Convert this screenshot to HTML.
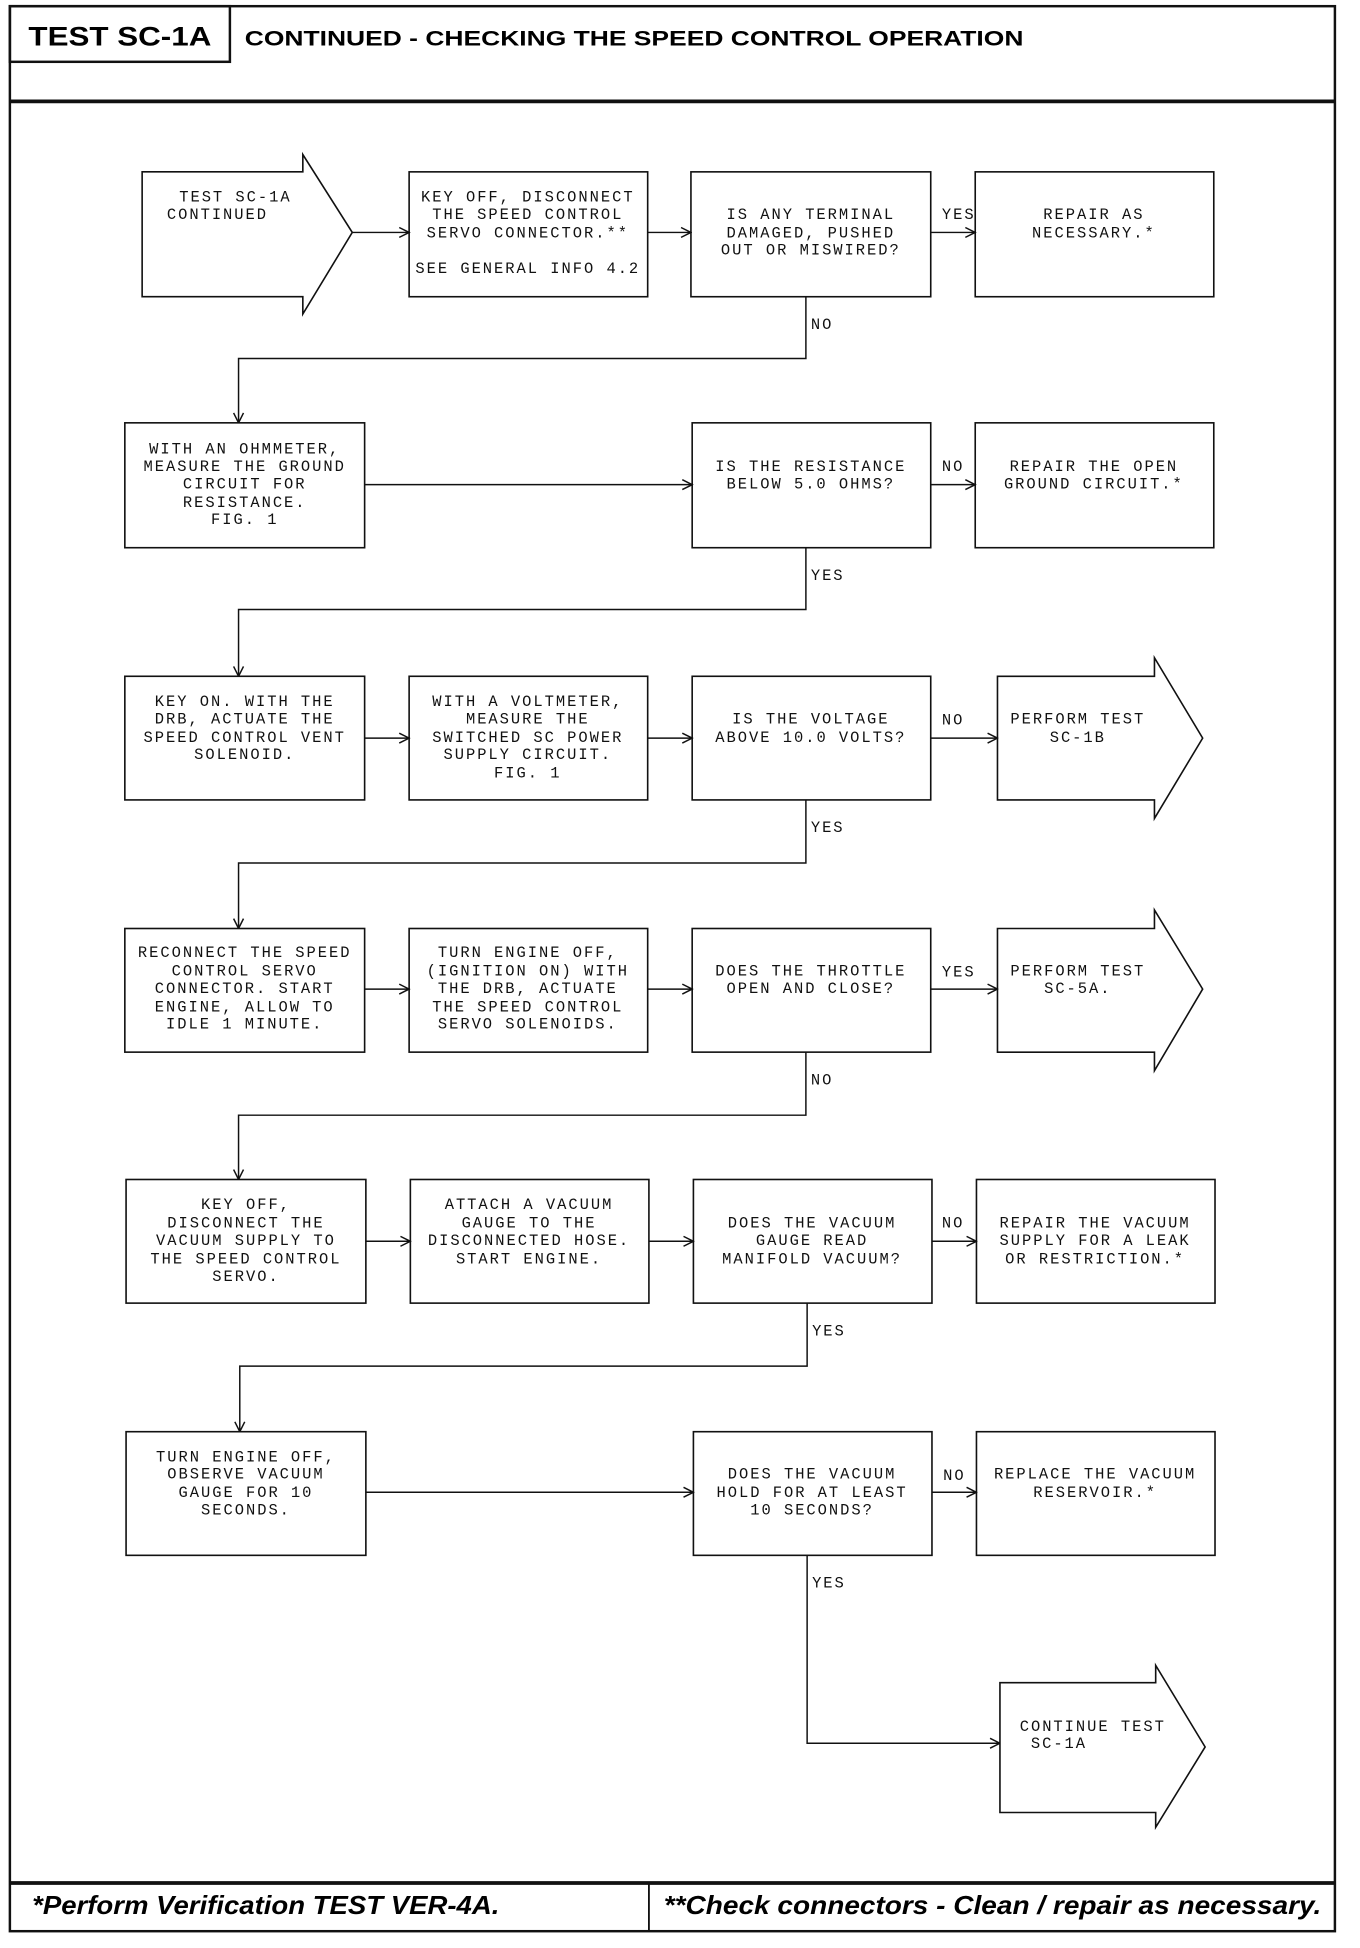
<!DOCTYPE html>
<html><head><meta charset="utf-8"><style>
html,body{margin:0;padding:0;background:#fff;}
svg{display:block;}
.t{font-family:"Liberation Mono",monospace;font-size:12.5px;letter-spacing:1.6px;fill:#111;text-anchor:middle;}
.l{font-family:"Liberation Mono",monospace;font-size:12.5px;letter-spacing:1.6px;fill:#111;}
.b{fill:#fff;stroke:#111;stroke-width:1.3;}
.c{fill:none;stroke:#111;stroke-width:1.2;}
</style></head><body>
<svg width="1360" height="1948" viewBox="0 0 1100.3 1575.6" preserveAspectRatio="none" xmlns="http://www.w3.org/2000/svg">
<defs><marker id="a" markerWidth="10" markerHeight="10" refX="9" refY="5" orient="auto" markerUnits="userSpaceOnUse"><path d="M1,1 L9,5 L1,9" fill="none" stroke="#111" stroke-width="1.2"/></marker></defs>
<rect x="8" y="5" width="1072" height="1557" fill="none" stroke="#111" stroke-width="2"/>
<rect x="8" y="5" width="178" height="45" fill="none" stroke="#111" stroke-width="2"/>
<text x="97" y="37" text-anchor="middle" font-family="Liberation Sans,sans-serif" font-weight="bold" font-size="22" textLength="148" lengthAdjust="spacingAndGlyphs">TEST SC-1A</text>
<text x="198" y="37" font-family="Liberation Sans,sans-serif" font-weight="bold" font-size="17" textLength="630" lengthAdjust="spacingAndGlyphs">CONTINUED - CHECKING THE SPEED CONTROL OPERATION</text>
<line x1="8" y1="82" x2="1080" y2="82" stroke="#111" stroke-width="3"/>
<line x1="8" y1="1523" x2="1080" y2="1523" stroke="#111" stroke-width="3"/>
<line x1="525" y1="1523" x2="525" y2="1562" stroke="#111" stroke-width="1.5"/>
<text x="26" y="1548" font-family="Liberation Sans,sans-serif" font-weight="bold" font-style="italic" font-size="21" textLength="378" lengthAdjust="spacingAndGlyphs">*Perform Verification TEST VER-4A.</text>
<text x="537" y="1548" font-family="Liberation Sans,sans-serif" font-weight="bold" font-style="italic" font-size="21" textLength="532" lengthAdjust="spacingAndGlyphs">**Check connectors - Clean / repair as necessary.</text>

<!-- Row1 -->
<path class="b" d="M115,139 H245 V125 L285,188 L245,254 V240 H115 Z"/>
<text class="l" x="145" y="163">TEST SC-1A</text>
<text class="l" x="135" y="177">CONTINUED</text>
<rect class="b" x="331" y="139" width="193" height="101"/>
<text class="t" x="427" y="163">KEY OFF, DISCONNECT</text>
<text class="t" x="427" y="177">THE SPEED CONTROL</text>
<text class="t" x="427" y="192">SERVO CONNECTOR.**</text>
<text class="t" x="427" y="221">SEE GENERAL INFO 4.2</text>
<rect class="b" x="559" y="139" width="194" height="101"/>
<text class="t" x="656" y="177">IS ANY TERMINAL</text>
<text class="t" x="656" y="192">DAMAGED, PUSHED</text>
<text class="t" x="656" y="206">OUT OR MISWIRED?</text>
<rect class="b" x="789" y="139" width="193" height="101"/>
<text class="t" x="885" y="177">REPAIR AS</text>
<text class="t" x="885" y="192">NECESSARY.*</text>
<line class="c" x1="285" y1="188" x2="331" y2="188" marker-end="url(#a)"/>
<line class="c" x1="524" y1="188" x2="559" y2="188" marker-end="url(#a)"/>
<line class="c" x1="753" y1="188" x2="789" y2="188" marker-end="url(#a)"/>
<text class="l" x="762" y="177">YES</text>
<polyline class="c" points="652,240 652,290 193,290 193,342" marker-end="url(#a)"/>
<text class="l" x="656" y="266">NO</text>

<!-- Row2 -->
<rect class="b" x="101" y="342" width="194" height="101"/>
<text class="t" x="198" y="367">WITH AN OHMMETER,</text>
<text class="t" x="198" y="381">MEASURE THE GROUND</text>
<text class="t" x="198" y="395">CIRCUIT FOR</text>
<text class="t" x="198" y="410">RESISTANCE.</text>
<text class="t" x="198" y="424">FIG. 1</text>
<rect class="b" x="560" y="342" width="193" height="101"/>
<text class="t" x="656" y="381">IS THE RESISTANCE</text>
<text class="t" x="656" y="395">BELOW 5.0 OHMS?</text>
<rect class="b" x="789" y="342" width="193" height="101"/>
<text class="t" x="885" y="381">REPAIR THE OPEN</text>
<text class="t" x="885" y="395">GROUND CIRCUIT.*</text>
<line class="c" x1="295" y1="392" x2="560" y2="392" marker-end="url(#a)"/>
<line class="c" x1="753" y1="392" x2="789" y2="392" marker-end="url(#a)"/>
<text class="l" x="762" y="381">NO</text>
<polyline class="c" points="652,443 652,493 193,493 193,547" marker-end="url(#a)"/>
<text class="l" x="656" y="469">YES</text>

<!-- Row3 -->
<rect class="b" x="101" y="547" width="194" height="100"/>
<text class="t" x="198" y="571">KEY ON. WITH THE</text>
<text class="t" x="198" y="585">DRB, ACTUATE THE</text>
<text class="t" x="198" y="600">SPEED CONTROL VENT</text>
<text class="t" x="198" y="614">SOLENOID.</text>
<rect class="b" x="331" y="547" width="193" height="100"/>
<text class="t" x="427" y="571">WITH A VOLTMETER,</text>
<text class="t" x="427" y="585">MEASURE THE</text>
<text class="t" x="427" y="600">SWITCHED SC POWER</text>
<text class="t" x="427" y="614">SUPPLY CIRCUIT.</text>
<text class="t" x="427" y="629">FIG. 1</text>
<rect class="b" x="560" y="547" width="193" height="100"/>
<text class="t" x="656" y="585">IS THE VOLTAGE</text>
<text class="t" x="656" y="600">ABOVE 10.0 VOLTS?</text>
<path class="b" d="M807,547 H934 V532 L973,597 L934,662 V647 H807 Z"/>
<text class="t" x="872" y="585">PERFORM TEST</text>
<text class="t" x="872" y="600">SC-1B</text>
<line class="c" x1="295" y1="597" x2="331" y2="597" marker-end="url(#a)"/>
<line class="c" x1="524" y1="597" x2="560" y2="597" marker-end="url(#a)"/>
<line class="c" x1="753" y1="597" x2="807" y2="597" marker-end="url(#a)"/>
<text class="l" x="762" y="586">NO</text>
<polyline class="c" points="652,647 652,698 193,698 193,751" marker-end="url(#a)"/>
<text class="l" x="656" y="673">YES</text>

<!-- Row4 -->
<rect class="b" x="101" y="751" width="194" height="100"/>
<text class="t" x="198" y="774">RECONNECT THE SPEED</text>
<text class="t" x="198" y="789">CONTROL SERVO</text>
<text class="t" x="198" y="803">CONNECTOR. START</text>
<text class="t" x="198" y="818">ENGINE, ALLOW TO</text>
<text class="t" x="198" y="832">IDLE 1 MINUTE.</text>
<rect class="b" x="331" y="751" width="193" height="100"/>
<text class="t" x="427" y="774">TURN ENGINE OFF,</text>
<text class="t" x="427" y="789">(IGNITION ON) WITH</text>
<text class="t" x="427" y="803">THE DRB, ACTUATE</text>
<text class="t" x="427" y="818">THE SPEED CONTROL</text>
<text class="t" x="427" y="832">SERVO SOLENOIDS.</text>
<rect class="b" x="560" y="751" width="193" height="100"/>
<text class="t" x="656" y="789">DOES THE THROTTLE</text>
<text class="t" x="656" y="803">OPEN AND CLOSE?</text>
<path class="b" d="M807,751 H934 V736 L973,800 L934,866 V851 H807 Z"/>
<text class="t" x="872" y="789">PERFORM TEST</text>
<text class="t" x="872" y="803">SC-5A.</text>
<line class="c" x1="295" y1="800" x2="331" y2="800" marker-end="url(#a)"/>
<line class="c" x1="524" y1="800" x2="560" y2="800" marker-end="url(#a)"/>
<line class="c" x1="753" y1="800" x2="807" y2="800" marker-end="url(#a)"/>
<text class="l" x="762" y="790">YES</text>
<polyline class="c" points="652,851 652,902 193,902 193,954" marker-end="url(#a)"/>
<text class="l" x="656" y="877">NO</text>

<!-- Row5 -->
<rect class="b" x="102" y="954" width="194" height="100"/>
<text class="t" x="199" y="978">KEY OFF,</text>
<text class="t" x="199" y="993">DISCONNECT THE</text>
<text class="t" x="199" y="1007">VACUUM SUPPLY TO</text>
<text class="t" x="199" y="1022">THE SPEED CONTROL</text>
<text class="t" x="199" y="1036">SERVO.</text>
<rect class="b" x="332" y="954" width="193" height="100"/>
<text class="t" x="428" y="978">ATTACH A VACUUM</text>
<text class="t" x="428" y="993">GAUGE TO THE</text>
<text class="t" x="428" y="1007">DISCONNECTED HOSE.</text>
<text class="t" x="428" y="1022">START ENGINE.</text>
<rect class="b" x="561" y="954" width="193" height="100"/>
<text class="t" x="657" y="993">DOES THE VACUUM</text>
<text class="t" x="657" y="1007">GAUGE READ</text>
<text class="t" x="657" y="1022">MANIFOLD VACUUM?</text>
<rect class="b" x="790" y="954" width="193" height="100"/>
<text class="t" x="886" y="993">REPAIR THE VACUUM</text>
<text class="t" x="886" y="1007">SUPPLY FOR A LEAK</text>
<text class="t" x="886" y="1022">OR RESTRICTION.*</text>
<line class="c" x1="296" y1="1004" x2="332" y2="1004" marker-end="url(#a)"/>
<line class="c" x1="525" y1="1004" x2="561" y2="1004" marker-end="url(#a)"/>
<line class="c" x1="754" y1="1004" x2="790" y2="1004" marker-end="url(#a)"/>
<text class="l" x="762" y="993">NO</text>
<polyline class="c" points="653,1054 653,1105 194,1105 194,1158" marker-end="url(#a)"/>
<text class="l" x="657" y="1080">YES</text>

<!-- Row6 -->
<rect class="b" x="102" y="1158" width="194" height="100"/>
<text class="t" x="199" y="1182">TURN ENGINE OFF,</text>
<text class="t" x="199" y="1196">OBSERVE VACUUM</text>
<text class="t" x="199" y="1211">GAUGE FOR 10</text>
<text class="t" x="199" y="1225">SECONDS.</text>
<rect class="b" x="561" y="1158" width="193" height="100"/>
<text class="t" x="657" y="1196">DOES THE VACUUM</text>
<text class="t" x="657" y="1211">HOLD FOR AT LEAST</text>
<text class="t" x="657" y="1225">10 SECONDS?</text>
<rect class="b" x="790" y="1158" width="193" height="100"/>
<text class="t" x="886" y="1196">REPLACE THE VACUUM</text>
<text class="t" x="886" y="1211">RESERVOIR.*</text>
<line class="c" x1="296" y1="1207" x2="561" y2="1207" marker-end="url(#a)"/>
<line class="c" x1="754" y1="1207" x2="790" y2="1207" marker-end="url(#a)"/>
<text class="l" x="763" y="1197">NO</text>
<polyline class="c" points="653,1258 653,1410 809,1410" marker-end="url(#a)"/>
<text class="l" x="657" y="1284">YES</text>
<path class="b" d="M809,1361 H935 V1347 L975,1413 L935,1478 V1466 H809 Z"/>
<text class="l" x="825" y="1400">CONTINUE TEST</text>
<text class="l" x="834" y="1414">SC-1A</text>
</svg>
</body></html>
